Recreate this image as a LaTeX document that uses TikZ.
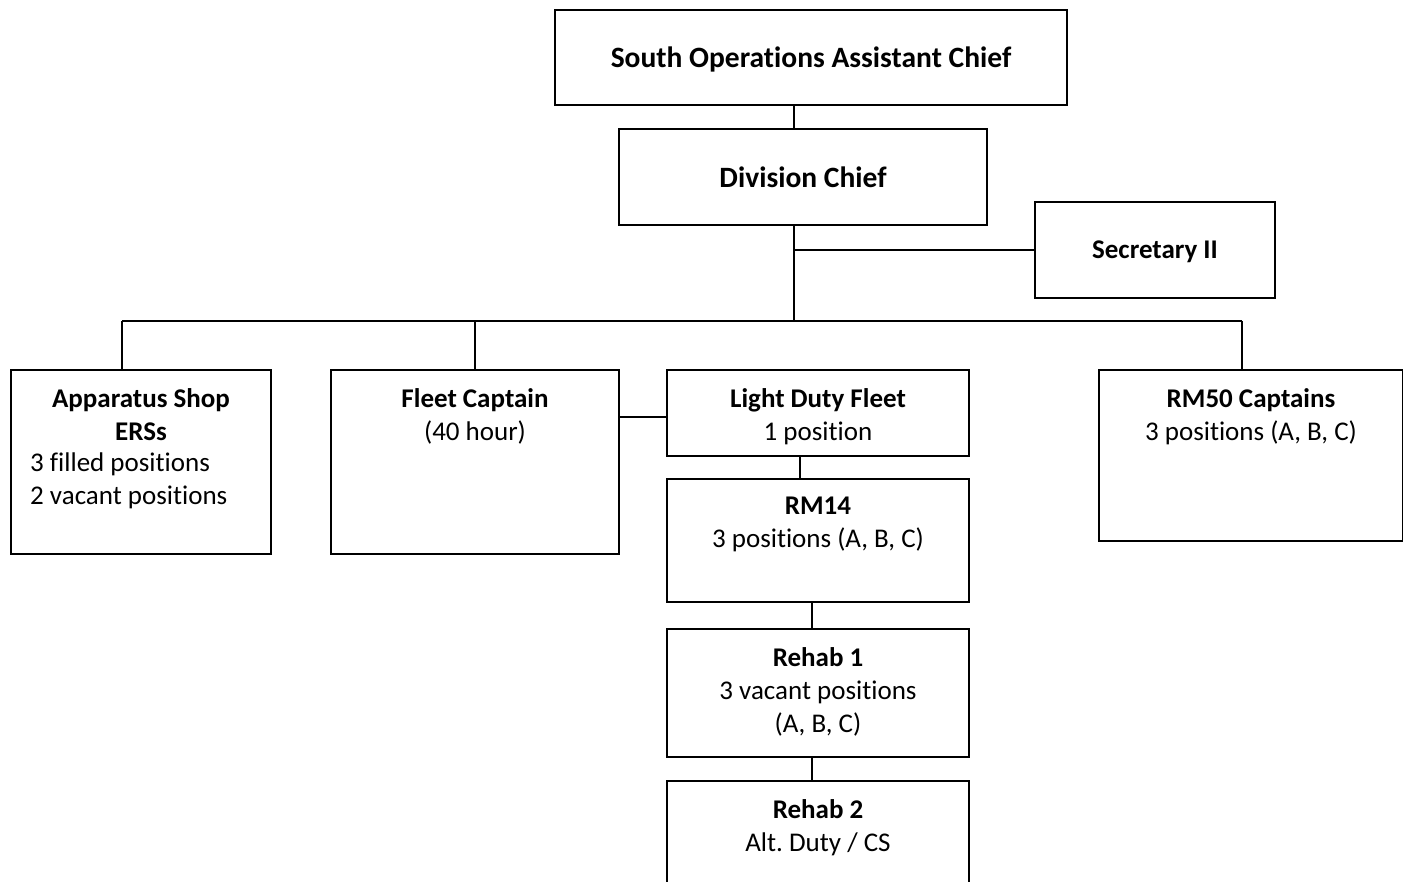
\documentclass[tikz,border=0pt]{standalone}
\usepackage{fontspec}
\setmainfont{Carlito}[Ligatures=NoCommon]
\usetikzlibrary{positioning}
\frenchspacing

\begin{document}
\begin{tikzpicture}[x=1pt,y=-1pt,
  unit/.style={draw, line width=2pt, rectangle, inner sep=0pt, anchor=north west,
    text depth=0pt, font=\fontsize{27}{33}\selectfont\bfseries},
  head/.style={font=\fontsize{29.5}{35}\selectfont\bfseries},
  txt/.style={font=\fontsize{27}{33}\selectfont, align=center, inner sep=0pt},
  link/.style={line width=2pt}]

% FRAME
\clip (0,0) rectangle (1403,882);

% TOP
\node[unit, head, minimum width=512pt, minimum height=95pt] (soac) at (554,9) {South Operations Assistant Chief};
\node[unit, head, minimum width=368pt, minimum height=96pt] (div) at (618,128) {Division Chief};
\node[unit, minimum width=240pt, minimum height=96pt] (sec) at (1034,201) {Secretary II};

% helper coordinates
\coordinate (trunk) at (794,321);
\coordinate (busL) at (122,321);
\coordinate (busR) at (1242,321);
\coordinate (side) at (666,417);
\coordinate (dropA) at (800,455);
\coordinate (dropB) at (812,602);
\coordinate (dropC) at (812,756);

% SECOND ROW
\node[unit, minimum width=260pt, minimum height=184pt] (app) at (10,369) {};
\node[txt, font=\fontsize{27}{33}\selectfont\bfseries, below=19pt of app.north] (appT) {Apparatus Shop\\ERSs};
\node[txt, align=left, anchor=north west] (appN) at (30,453) {3 filled positions\\2 vacant positions};

\node[unit, minimum width=288pt, minimum height=184pt] (fleet) at (330,369) {};
\node[txt, below=19pt of fleet.north] (fleetT) {\textbf{Fleet Captain}\\(40 hour)};

\node[unit, minimum width=302pt, minimum height=86pt] (light) at (666,369) {};
\node[txt, below=19pt of light.north] (lightT) {\textbf{Light Duty Fleet}\\1 position};

\node[unit, minimum width=304pt, minimum height=171pt] (rmf) at (1098,369) {};
\node[txt, below=19pt of rmf.north] (rmfT) {\textbf{RM50 Captains}\\3 positions (A, B, C)};

% COLUMN
\node[unit, minimum width=302pt, minimum height=123pt] (rmt) at (666,478) {};
\node[txt, below=19pt of rmt.north] (rmtT) {\textbf{RM14}\\3 positions (A, B, C)};

\node[unit, minimum width=302pt, minimum height=128pt] (rehabA) at (666,628) {};
\node[txt, below=19pt of rehabA.north] (rehabAT) {\textbf{Rehab 1}\\3 vacant positions\\(A, B, C)};

\node[unit, minimum width=302pt, minimum height=150pt] (rehabB) at (666,780) {};
\node[txt, below=19pt of rehabB.north] (rehabBT) {\textbf{Rehab 2}\\Alt. Duty / CS};

% EDGES
\draw[link] (soac.south -| trunk) -- (div.north -| trunk);
\draw[link] (div.south -| trunk) -- (trunk);
\draw[link] (sec.west) -- (sec.west -| trunk);
\draw[link] (busL) -- (busR);
\draw[link] (busL) -- (busL |- app.north);
\draw[link] (fleet.north) -- (fleet.north |- busL);
\draw[link] (busR) -- (busR |- rmf.north);
\draw[link] (side) -- (side -| fleet.east);
\draw[link] (dropA) -- (dropA |- rmt.north);
\draw[link] (dropB) -- (dropB |- rehabA.north);
\draw[link] (dropC) -- (dropC |- rehabB.north);

\end{tikzpicture}
\end{document}
